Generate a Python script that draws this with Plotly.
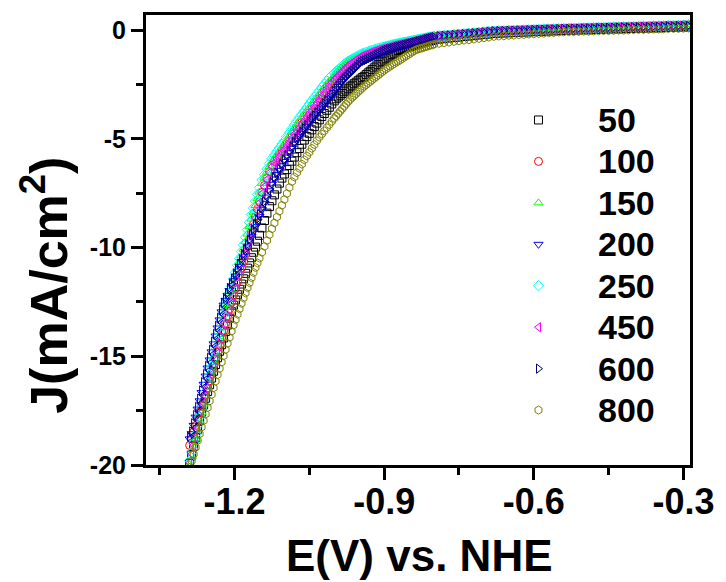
import plotly.graph_objects as go

# ---------------------------------------------------------------------------
# Linear sweep voltammetry: current density J (mA/cm^2) vs. potential E (V vs. NHE)
# ---------------------------------------------------------------------------

# Potential sweep shared by every scan (V vs. NHE)
E_V = [
    -1.290, -1.286, -1.282, -1.278, -1.274, -1.270, -1.266, -1.262, -1.258, -1.254,
    -1.250, -1.246, -1.242, -1.238, -1.234, -1.230, -1.226, -1.222, -1.218, -1.214,
    -1.210, -1.206, -1.202, -1.198, -1.194, -1.190, -1.186, -1.182, -1.178, -1.174,
    -1.170, -1.166, -1.162, -1.158, -1.154, -1.150,
    -1.145, -1.140, -1.135, -1.130, -1.125, -1.120, -1.115, -1.110, -1.105, -1.100,
    -1.095, -1.090, -1.085, -1.080, -1.075, -1.070, -1.065, -1.060, -1.055, -1.050,
    -1.045, -1.040, -1.035, -1.030, -1.025, -1.020, -1.015, -1.010, -1.005, -1.000,
    -0.996, -0.992, -0.988, -0.984, -0.980, -0.976, -0.972, -0.968, -0.964, -0.960,
    -0.956, -0.952, -0.948, -0.944, -0.940, -0.936, -0.932, -0.928, -0.924, -0.920,
    -0.916, -0.912, -0.908, -0.904, -0.900, -0.896, -0.892, -0.888, -0.884, -0.880,
    -0.876, -0.872, -0.868, -0.864, -0.860, -0.856, -0.852, -0.848, -0.844, -0.840,
    -0.836, -0.832, -0.828, -0.824, -0.820, -0.816, -0.812, -0.808, -0.804, -0.800,
    -0.790, -0.780, -0.770, -0.760, -0.750, -0.740, -0.730, -0.720, -0.710, -0.700,
    -0.690, -0.680, -0.670, -0.660, -0.650, -0.640, -0.630, -0.620, -0.610, -0.600,
    -0.590, -0.580, -0.570, -0.560, -0.550, -0.540, -0.530, -0.520, -0.510, -0.500,
    -0.490, -0.480, -0.470, -0.460, -0.450, -0.440, -0.430, -0.420, -0.410, -0.400,
    -0.390, -0.380, -0.370, -0.360, -0.350, -0.340, -0.330, -0.320, -0.310, -0.300,
    -0.290,
]

J_50 = [
    -19.94, -19.54, -19.15, -18.75, -18.36, -17.96, -17.57, -17.24, -16.93, -16.62,
    -16.31, -16.00, -15.69, -15.38, -15.07, -14.77, -14.47, -14.16, -13.86, -13.56,
    -13.25, -12.95, -12.65, -12.41, -12.17, -11.92, -11.68, -11.44, -11.19, -10.95,
    -10.71, -10.47, -10.22, -9.98, -9.71, -9.44,
    -9.10, -8.76, -8.42, -8.12, -7.85, -7.58, -7.31, -7.04, -6.81, -6.62,
    -6.42, -6.23, -6.03, -5.84, -5.64, -5.45, -5.25, -5.06, -4.90, -4.75,
    -4.59, -4.44, -4.28, -4.13, -3.98, -3.84, -3.69, -3.55, -3.40, -3.26,
    -3.16, -3.08, -3.00, -2.92, -2.84, -2.76, -2.68, -2.61, -2.54, -2.47,
    -2.40, -2.33, -2.26, -2.19, -2.13, -2.05, -1.97, -1.90, -1.82, -1.74,
    -1.66, -1.59, -1.51, -1.44, -1.38, -1.32, -1.25, -1.19, -1.13, -1.07,
    -1.01, -0.94, -0.90, -0.87, -0.84, -0.81, -0.78, -0.75, -0.72, -0.69,
    -0.66, -0.64, -0.62, -0.59, -0.57, -0.55, -0.52, -0.50, -0.48, -0.46,
    -0.42, -0.40, -0.37, -0.35, -0.33, -0.30, -0.28, -0.26, -0.23, -0.21,
    -0.19, -0.16, -0.15, -0.14, -0.13, -0.12, -0.11, -0.10, -0.09, -0.08,
    -0.07, -0.06, -0.05, -0.04, -0.03, -0.02, -0.01, -0.01, 0.00, 0.01,
    0.01, 0.02, 0.03, 0.03, 0.04, 0.05, 0.05, 0.06, 0.07, 0.07,
    0.08, 0.08, 0.09, 0.10, 0.10, 0.11, 0.12, 0.12, 0.13, 0.14,
    0.14,
]

J_100 = [
    -19.10, -18.80, -18.49, -18.19, -17.88, -17.58, -17.30, -17.07, -16.79, -16.46,
    -16.13, -15.79, -15.45, -15.15, -14.83, -14.50, -14.17, -13.83, -13.48, -13.16,
    -12.84, -12.52, -12.20, -11.88, -11.56, -11.25, -10.94, -10.65, -10.31, -9.97,
    -9.63, -9.28, -8.93, -8.59, -8.25, -7.90,
    -7.47, -7.15, -6.82, -6.51, -6.23, -6.05, -5.88, -5.73, -5.57, -5.42,
    -5.25, -5.09, -4.92, -4.74, -4.56, -4.40, -4.25, -4.09, -3.94, -3.78,
    -3.63, -3.46, -3.30, -3.15, -2.99, -2.82, -2.65, -2.48, -2.35, -2.23,
    -2.17, -2.08, -1.98, -1.89, -1.80, -1.70, -1.62, -1.55, -1.49, -1.43,
    -1.37, -1.31, -1.25, -1.20, -1.16, -1.12, -1.09, -1.04, -1.01, -0.98,
    -0.94, -0.92, -0.88, -0.86, -0.84, -0.81, -0.79, -0.77, -0.74, -0.71,
    -0.69, -0.67, -0.65, -0.63, -0.60, -0.59, -0.57, -0.55, -0.53, -0.51,
    -0.49, -0.47, -0.46, -0.43, -0.41, -0.39, -0.37, -0.35, -0.34, -0.31,
    -0.27, -0.26, -0.24, -0.22, -0.20, -0.18, -0.16, -0.14, -0.12, -0.10,
    -0.08, -0.06, -0.04, -0.03, -0.02, -0.02, -0.01, 0.00, 0.01, 0.02,
    0.03, 0.04, 0.05, 0.05, 0.06, 0.07, 0.08, 0.08, 0.09, 0.10,
    0.10, 0.11, 0.12, 0.12, 0.13, 0.14, 0.14, 0.15, 0.15, 0.16,
    0.17, 0.17, 0.18, 0.19, 0.19, 0.20, 0.21, 0.21, 0.22, 0.23,
    0.23,
]

J_150 = [
    -20.00, -19.60, -19.19, -18.79, -18.38, -17.98, -17.58, -17.20, -16.82, -16.44,
    -16.06, -15.68, -15.30, -14.90, -14.50, -14.10, -13.70, -13.30, -12.94, -12.62,
    -12.30, -11.98, -11.66, -11.34, -11.02, -10.70, -10.38, -10.08, -9.73, -9.38,
    -9.04, -8.69, -8.38, -8.07, -7.76, -7.45,
    -7.05, -6.80, -6.54, -6.29, -6.06, -5.90, -5.73, -5.57, -5.40, -5.24,
    -5.05, -4.87, -4.69, -4.51, -4.33, -4.17, -4.02, -3.86, -3.71, -3.55,
    -3.40, -3.24, -3.09, -2.94, -2.79, -2.64, -2.49, -2.35, -2.24, -2.14,
    -1.93, -1.85, -1.76, -1.68, -1.60, -1.52, -1.46, -1.41, -1.36, -1.31,
    -1.26, -1.21, -1.16, -1.12, -1.09, -1.06, -1.03, -0.99, -0.96, -0.93,
    -0.90, -0.88, -0.85, -0.83, -0.75, -0.72, -0.70, -0.68, -0.65, -0.63,
    -0.61, -0.59, -0.57, -0.55, -0.53, -0.52, -0.50, -0.48, -0.46, -0.44,
    -0.42, -0.40, -0.39, -0.37, -0.35, -0.33, -0.31, -0.29, -0.28, -0.26,
    -0.23, -0.22, -0.20, -0.18, -0.16, -0.14, -0.12, -0.10, -0.08, -0.06,
    -0.04, -0.02, -0.01, 0.00, 0.01, 0.01, 0.02, 0.03, 0.04, 0.05,
    0.06, 0.07, 0.08, 0.08, 0.09, 0.10, 0.11, 0.11, 0.12, 0.13,
    0.13, 0.14, 0.15, 0.15, 0.16, 0.17, 0.17, 0.18, 0.18, 0.19,
    0.20, 0.20, 0.21, 0.22, 0.22, 0.23, 0.24, 0.24, 0.25, 0.26,
    0.26,
]

J_200 = [
    -18.80, -18.56, -18.18, -17.80, -17.43, -17.05, -16.67, -16.29, -15.91, -15.54,
    -15.17, -14.80, -14.43, -14.07, -13.70, -13.33, -12.96, -12.65, -12.43, -12.20,
    -11.98, -11.76, -11.53, -11.31, -11.08, -10.86, -10.64, -10.41, -10.19, -9.97,
    -9.74, -9.50, -9.27, -9.04, -8.80, -8.57,
    -8.26, -7.97, -7.68, -7.39, -7.09, -6.85, -6.65, -6.45, -6.24, -6.04,
    -5.84, -5.64, -5.44, -5.23, -5.06, -4.90, -4.75, -4.59, -4.44, -4.28,
    -4.13, -4.00, -3.86, -3.73, -3.59, -3.45, -3.31, -3.17, -3.03, -2.88,
    -2.71, -2.59, -2.48, -2.36, -2.26, -2.17, -2.07, -1.98, -1.89, -1.80,
    -1.70, -1.61, -1.51, -1.46, -1.42, -1.38, -1.33, -1.29, -1.25, -1.21,
    -1.16, -1.12, -1.08, -1.03, -0.99, -0.95, -0.92, -0.90, -0.87, -0.85,
    -0.82, -0.80, -0.77, -0.75, -0.72, -0.70, -0.67, -0.65, -0.62, -0.60,
    -0.57, -0.55, -0.52, -0.50, -0.47, -0.45, -0.42, -0.40, -0.37, -0.35,
    -0.31, -0.29, -0.27, -0.25, -0.23, -0.21, -0.19, -0.17, -0.15, -0.13,
    -0.10, -0.08, -0.07, -0.07, -0.06, -0.05, -0.04, -0.04, -0.03, -0.02,
    -0.01, -0.01, 0.00, 0.01, 0.02, 0.03, 0.03, 0.04, 0.04, 0.05,
    0.06, 0.06, 0.07, 0.07, 0.08, 0.08, 0.09, 0.10, 0.10, 0.11,
    0.11, 0.12, 0.12, 0.13, 0.13, 0.14, 0.15, 0.15, 0.16, 0.16,
    0.17,
]

J_250 = [
    -19.80, -19.40, -18.99, -18.59, -18.18, -17.78, -17.38, -17.00, -16.62, -16.24,
    -15.86, -15.48, -15.10, -14.70, -14.30, -13.90, -13.50, -13.10, -12.74, -12.42,
    -12.10, -11.78, -11.46, -11.14, -10.82, -10.50, -10.18, -9.88, -9.53, -9.18,
    -8.84, -8.49, -8.18, -7.87, -7.56, -7.25,
    -6.90, -6.65, -6.39, -6.14, -5.91, -5.75, -5.58, -5.42, -5.25, -5.09,
    -4.90, -4.72, -4.54, -4.36, -4.18, -4.02, -3.87, -3.71, -3.56, -3.40,
    -3.25, -3.09, -2.94, -2.79, -2.64, -2.49, -2.34, -2.20, -2.09, -1.99,
    -1.90, -1.82, -1.73, -1.65, -1.57, -1.49, -1.43, -1.38, -1.33, -1.28,
    -1.23, -1.18, -1.13, -1.09, -1.06, -1.03, -1.00, -0.96, -0.93, -0.90,
    -0.87, -0.85, -0.82, -0.80, -0.78, -0.75, -0.73, -0.71, -0.68, -0.66,
    -0.64, -0.62, -0.60, -0.58, -0.56, -0.55, -0.53, -0.51, -0.49, -0.47,
    -0.45, -0.43, -0.42, -0.40, -0.38, -0.36, -0.34, -0.32, -0.31, -0.29,
    -0.26, -0.25, -0.23, -0.21, -0.19, -0.17, -0.15, -0.13, -0.11, -0.09,
    -0.07, -0.05, -0.04, -0.03, -0.02, -0.02, -0.01, 0.00, 0.01, 0.02,
    0.03, 0.04, 0.05, 0.05, 0.06, 0.07, 0.08, 0.08, 0.09, 0.10,
    0.10, 0.11, 0.12, 0.12, 0.13, 0.14, 0.14, 0.15, 0.15, 0.16,
    0.17, 0.17, 0.18, 0.19, 0.19, 0.20, 0.21, 0.21, 0.22, 0.23,
    0.23,
]

J_450 = [
    -19.90, -19.50, -19.09, -18.69, -18.28, -17.88, -17.50, -17.17, -16.84, -16.51,
    -16.18, -15.84, -15.50, -15.20, -14.88, -14.55, -14.22, -13.88, -13.53, -13.21,
    -12.89, -12.57, -12.25, -11.93, -11.61, -11.30, -10.99, -10.70, -10.36, -10.02,
    -9.68, -9.33, -8.98, -8.64, -8.30, -7.95,
    -7.52, -7.20, -6.87, -6.56, -6.28, -6.10, -5.93, -5.78, -5.62, -5.47,
    -5.30, -5.14, -4.97, -4.79, -4.61, -4.45, -4.30, -4.14, -3.99, -3.83,
    -3.68, -3.51, -3.35, -3.20, -3.04, -2.87, -2.70, -2.53, -2.40, -2.28,
    -2.18, -2.09, -1.99, -1.90, -1.81, -1.71, -1.63, -1.56, -1.50, -1.44,
    -1.38, -1.32, -1.26, -1.21, -1.17, -1.13, -1.10, -1.05, -1.02, -0.99,
    -0.95, -0.93, -0.89, -0.87, -0.85, -0.82, -0.80, -0.78, -0.75, -0.72,
    -0.70, -0.68, -0.66, -0.64, -0.61, -0.60, -0.58, -0.56, -0.54, -0.52,
    -0.50, -0.48, -0.47, -0.44, -0.42, -0.40, -0.38, -0.36, -0.35, -0.32,
    -0.28, -0.27, -0.25, -0.23, -0.21, -0.19, -0.17, -0.15, -0.13, -0.11,
    -0.09, -0.07, -0.05, -0.04, -0.03, -0.03, -0.02, -0.01, 0.00, 0.01,
    0.02, 0.03, 0.04, 0.04, 0.05, 0.06, 0.07, 0.07, 0.08, 0.09,
    0.09, 0.10, 0.11, 0.11, 0.12, 0.13, 0.13, 0.14, 0.14, 0.15,
    0.16, 0.16, 0.17, 0.18, 0.18, 0.19, 0.20, 0.20, 0.21, 0.22,
    0.22,
]

J_600 = [
    -18.70, -18.46, -18.08, -17.70, -17.33, -16.95, -16.57, -16.19, -15.81, -15.44,
    -15.07, -14.70, -14.33, -13.97, -13.60, -13.23, -12.86, -12.55, -12.33, -12.10,
    -11.88, -11.66, -11.43, -11.21, -10.98, -10.76, -10.54, -10.31, -10.09, -9.87,
    -9.64, -9.40, -9.17, -8.94, -8.70, -8.47,
    -8.18, -7.89, -7.60, -7.31, -7.01, -6.77, -6.57, -6.37, -6.16, -5.96,
    -5.76, -5.56, -5.36, -5.15, -4.98, -4.82, -4.67, -4.51, -4.36, -4.20,
    -4.05, -3.92, -3.78, -3.65, -3.51, -3.37, -3.23, -3.09, -2.95, -2.80,
    -2.68, -2.56, -2.45, -2.33, -2.23, -2.14, -2.04, -1.95, -1.86, -1.77,
    -1.67, -1.58, -1.48, -1.43, -1.39, -1.35, -1.30, -1.26, -1.22, -1.18,
    -1.13, -1.09, -1.05, -1.00, -0.96, -0.92, -0.89, -0.87, -0.84, -0.82,
    -0.79, -0.77, -0.74, -0.72, -0.69, -0.67, -0.64, -0.62, -0.59, -0.57,
    -0.54, -0.52, -0.49, -0.47, -0.44, -0.42, -0.39, -0.37, -0.34, -0.32,
    -0.28, -0.26, -0.24, -0.22, -0.20, -0.18, -0.16, -0.14, -0.12, -0.10,
    -0.07, -0.05, -0.04, -0.04, -0.03, -0.02, -0.01, -0.01, 0.00, 0.01,
    0.02, 0.02, 0.03, 0.04, 0.05, 0.06, 0.06, 0.07, 0.07, 0.08,
    0.09, 0.09, 0.10, 0.10, 0.11, 0.11, 0.12, 0.13, 0.13, 0.14,
    0.14, 0.15, 0.15, 0.16, 0.16, 0.17, 0.18, 0.18, 0.19, 0.19,
    0.20,
]

J_800 = [
    -20.12, -19.81, -19.50, -19.19, -18.88, -18.57, -18.26, -17.96, -17.66, -17.36,
    -17.06, -16.76, -16.45, -16.15, -15.85, -15.56, -15.27, -14.98, -14.69, -14.41,
    -14.13, -13.85, -13.57, -13.32, -13.07, -12.82, -12.57, -12.32, -12.09, -11.85,
    -11.62, -11.39, -11.15, -10.92, -10.71, -10.49,
    -10.22, -9.95, -9.68, -9.41, -9.14, -8.87, -8.60, -8.33, -8.06, -7.79,
    -7.52, -7.24, -6.97, -6.76, -6.56, -6.36, -6.17, -5.97, -5.79, -5.62,
    -5.44, -5.27, -5.09, -4.93, -4.78, -4.64, -4.49, -4.35, -4.20, -4.06,
    -3.95, -3.84, -3.73, -3.62, -3.51, -3.40, -3.29, -3.19, -3.10, -3.02,
    -2.93, -2.84, -2.76, -2.67, -2.59, -2.52, -2.44, -2.37, -2.30, -2.22,
    -2.15, -2.08, -2.00, -1.93, -1.86, -1.79, -1.73, -1.67, -1.61, -1.55,
    -1.49, -1.44, -1.38, -1.32, -1.26, -1.20, -1.14, -1.08, -1.02, -0.96,
    -0.91, -0.88, -0.85, -0.83, -0.80, -0.77, -0.74, -0.71, -0.69, -0.66,
    -0.62, -0.59, -0.56, -0.53, -0.50, -0.47, -0.45, -0.42, -0.39, -0.36,
    -0.33, -0.30, -0.28, -0.27, -0.25, -0.24, -0.22, -0.21, -0.19, -0.18,
    -0.16, -0.15, -0.13, -0.12, -0.10, -0.09, -0.08, -0.08, -0.07, -0.06,
    -0.06, -0.05, -0.04, -0.03, -0.03, -0.02, -0.01, -0.01, 0.00, 0.01,
    0.02, 0.02, 0.03, 0.04, 0.04, 0.05, 0.06, 0.07, 0.07, 0.08,
    0.09,
]

# Series labels (legend) and the current-density arrays that belong to them
LABELS = ["50", "100", "150", "200", "250", "450", "600", "800"]
CURRENTS = [J_50, J_100, J_150, J_200, J_250, J_450, J_600, J_800]

# Axis ticks
X_TICKS = [-1.2, -0.9, -0.6, -0.3]
X_TICK_TEXT = ["-1.2", "-0.9", "-0.6", "-0.3"]
X_MINOR = [-1.35, -1.05, -0.75, -0.45]
Y_TICKS = [0, -5, -10, -15, -20]
Y_TICK_TEXT = ["0", "-5", "-10", "-15", "-20"]
Y_MINOR = [-2.5, -7.5, -12.5, -17.5]

# ---------------------------------------------------------------------------
# Styling
# ---------------------------------------------------------------------------
COLORS = ["#000000", "#ff0000", "#00ff00", "#0000ff",
          "#00ffff", "#ff00ff", "#000080", "#808000"]
SYMBOLS = ["square-open", "circle-open", "triangle-up-open", "triangle-down-open",
           "diamond-open", "triangle-left-open", "triangle-right-open", "hexagon-open"]

FONT = "Liberation Sans, Arial, sans-serif"

W, H = 726, 582
M_L, M_R, M_T, M_B = 146, 27, 15, 117
X_RANGE = [-1.3775, -0.2868]
Y_RANGE = [-20.0, 0.69]

# Hand-placed legend block (paper coordinates of the plot area)
LEG_MARK_X = 0.7215
LEG_TEXT_X = 0.8264
LEG_TOP = 0.7667
LEG_STEP = 0.0921

for arr in CURRENTS:
    assert len(arr) == len(E_V)

fig = go.Figure()

for lab, cur, col, sym in zip(LABELS, CURRENTS, COLORS, SYMBOLS):
    fig.add_trace(go.Scatter(
        x=E_V, y=cur, mode="markers", name=lab, showlegend=False,
        marker=dict(symbol=sym, size=8, color=col,
                    line=dict(color=col, width=1)),
    ))

# Legend swatches drawn on an overlay axis spanning the plot area (0..1)
n = len(LABELS)
fig.add_trace(go.Scatter(
    x=[LEG_MARK_X] * n,
    y=[LEG_TOP - i * LEG_STEP for i in range(n)],
    xaxis="x2", yaxis="y2", mode="markers", showlegend=False, hoverinfo="skip",
    marker=dict(symbol=SYMBOLS, size=8, color=COLORS,
                line=dict(color=COLORS, width=1)),
))

for i, lab in enumerate(LABELS):
    fig.add_annotation(
        x=LEG_TEXT_X, y=LEG_TOP - i * LEG_STEP, xref="paper", yref="paper",
        text=lab, showarrow=False, xanchor="left", yanchor="middle",
        font=dict(family=FONT, size=34, color="black", weight="bold"),
    )

# Axis titles
fig.add_annotation(
    x=0.5036, y=-0.2578, xref="paper", yref="paper", text="E(V) vs. NHE",
    showarrow=False, xanchor="center", yanchor="bottom", borderpad=0,
    font=dict(family=FONT, size=44, color="black", weight="bold"),
)
fig.add_annotation(
    x=-0.186, y=0.40, xref="paper", yref="paper", text="J(mA/cm<sup>2</sup>)",
    showarrow=False, xanchor="center", yanchor="middle", textangle=-90,
    font=dict(family=FONT, size=52, color="black", weight="bold"),
)

axis_common = dict(
    showline=True, linewidth=3, linecolor="black", mirror=True,
    ticks="outside", ticklen=12, tickwidth=3, tickcolor="black",
    showgrid=False, zeroline=False, tickmode="array",
)

fig.update_layout(
    width=W, height=H,
    margin=dict(l=M_L, r=M_R, t=M_T, b=M_B, pad=0),
    paper_bgcolor="white", plot_bgcolor="white",
    showlegend=False,
    xaxis=dict(
        range=X_RANGE, tickvals=X_TICKS, ticktext=X_TICK_TEXT,
        tickfont=dict(family=FONT, size=36, color="black", weight="bold"),
        ticklabeloverflow="allow", ticklabelstandoff=-9,
        minor=dict(tickvals=X_MINOR, ticks="outside", ticklen=7, tickwidth=3,
                   tickcolor="black", showgrid=False),
        **axis_common,
    ),
    yaxis=dict(
        range=Y_RANGE, tickvals=Y_TICKS, ticktext=Y_TICK_TEXT,
        tickfont=dict(family=FONT, size=25, color="black", weight="bold"),
        minor=dict(tickvals=Y_MINOR, ticks="outside", ticklen=7, tickwidth=3,
                   tickcolor="black", showgrid=False),
        **axis_common,
    ),
    xaxis2=dict(overlaying="x", range=[0, 1], visible=False, fixedrange=True),
    yaxis2=dict(overlaying="y", range=[0, 1], visible=False, fixedrange=True),
)

fig.write_html("out.html")
